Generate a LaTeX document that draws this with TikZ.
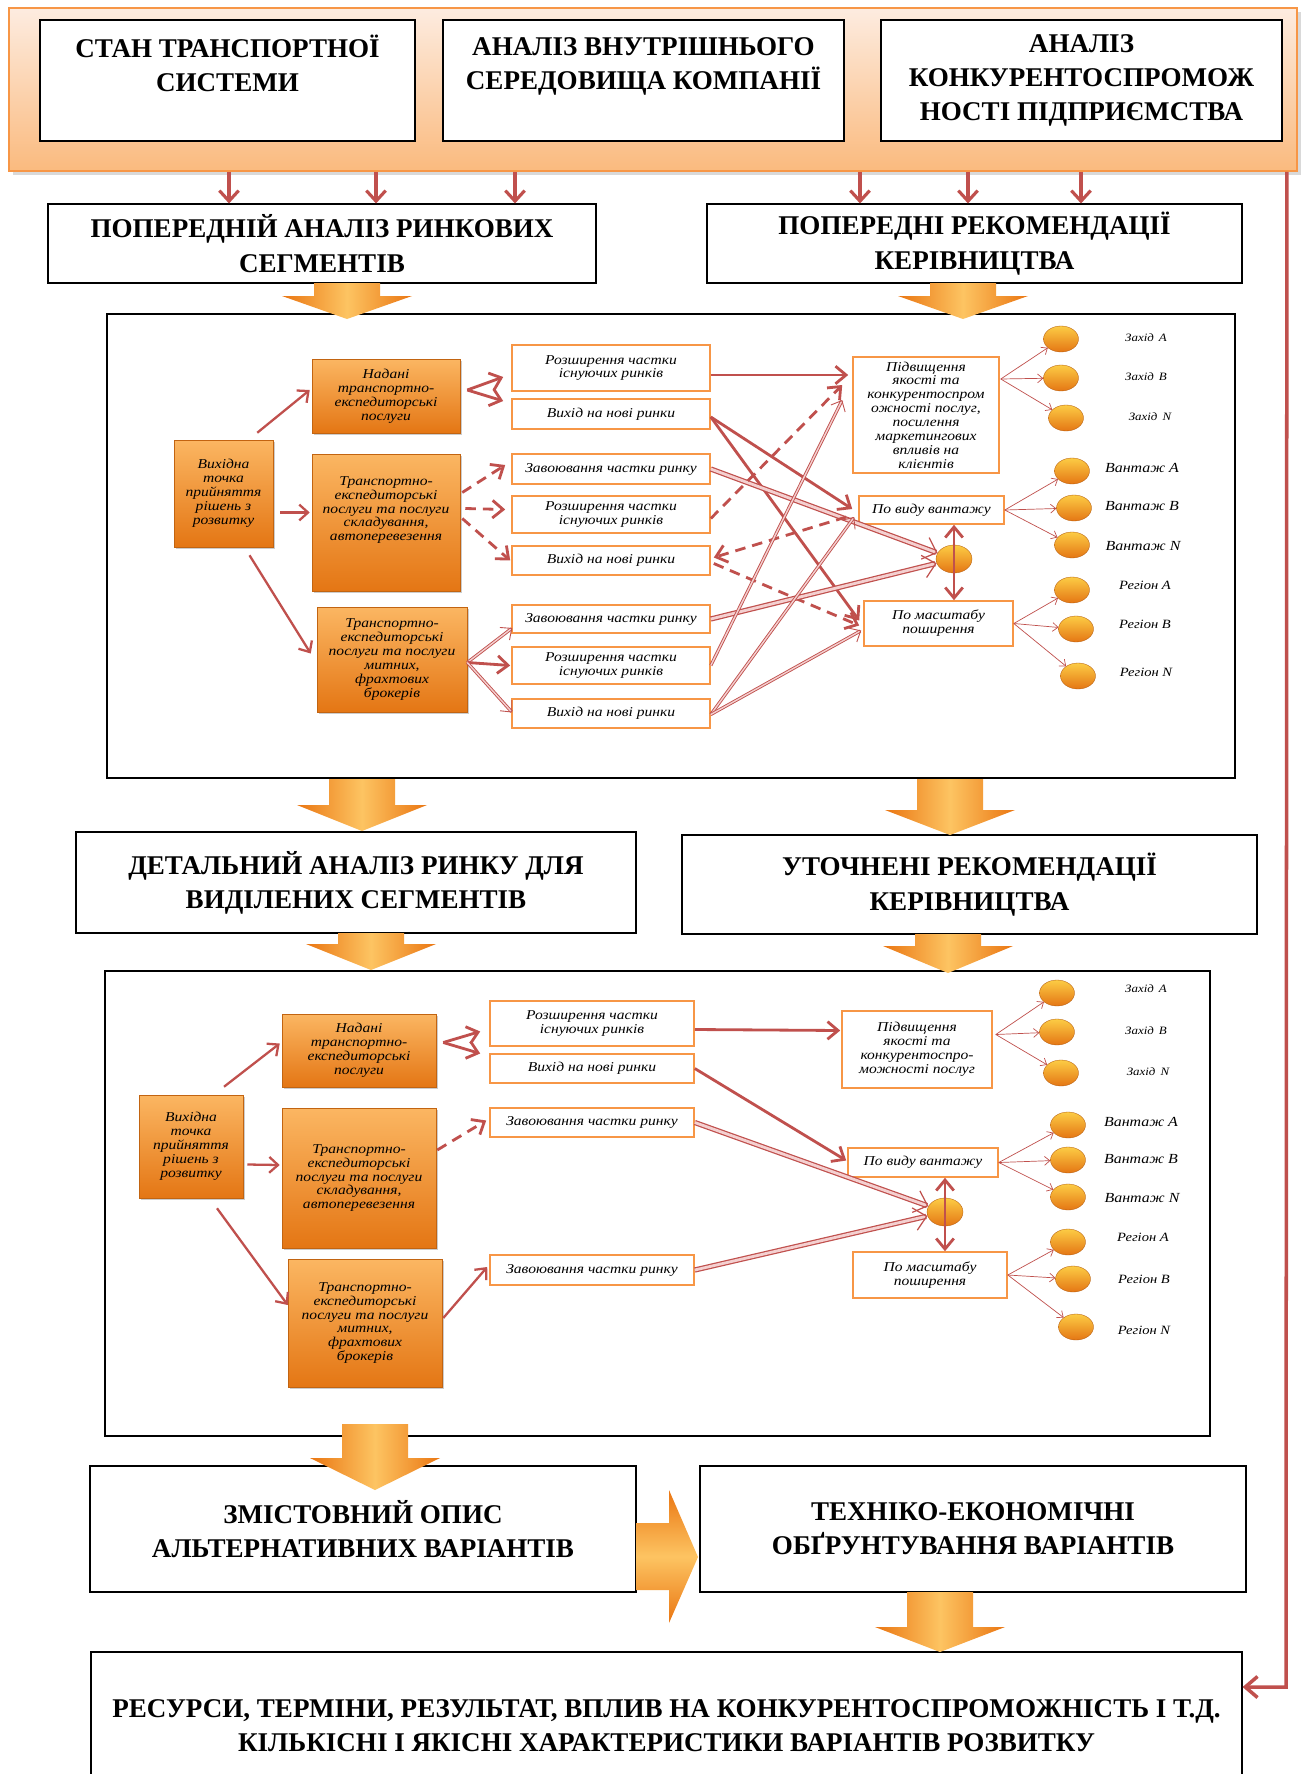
\documentclass[tikz,border=0pt]{standalone}
\usepackage{fontspec}
\setmainfont{Liberation Serif}
\newfontfamily\itf{Liberation Serif}[FakeStretch=1.15]
\usetikzlibrary{arrows.meta,shapes.geometric,shadows,calc}

\definecolor{arr}{RGB}{192,80,77}
\definecolor{obord}{RGB}{247,150,70}
\definecolor{otop}{RGB}{251,182,98}
\definecolor{obot}{RGB}{228,118,20}
\definecolor{bandtop}{RGB}{253,236,224}
\definecolor{bandbot}{RGB}{250,186,126}
\definecolor{fatdark}{RGB}{234,118,18}
\definecolor{fatlight}{RGB}{253,196,98}
\definecolor{dblfill}{RGB}{244,208,208}

\newcommand\hf{\fontsize{15.4}{19.5}\selectfont\bfseries}
\newcommand\smallit{\itf\itshape\fontsize{7.7}{7.9}\selectfont}
% rectangle node from its corners (x1,y1)-(x2,y2), in pixel units
\newcommand\bx[7]{\node[#1, minimum width={(#4-#2)*0.02cm}, minimum height={(#5-#3)*0.02cm}] (#6) at ({(#2+#4)/2},{(#3+#5)/2}) {#7};}
% fat down arrow: centre x, shaft top, head base, apex
\newcommand\fatdown[4]{\path[fat] (#1-33,#2) -- (#1+33,#2) -- (#1+33,#3) -- (#1+65,#3) -- (#1,#4) -- (#1-65,#3) -- (#1-33,#3) -- cycle;}

\tikzset{
  band/.style={top color=bandtop, bottom color=bandbot, draw=obord, line width=1pt,
    drop shadow={opacity=0.3, shadow xshift=2pt, shadow yshift=-2pt}},
  hbox/.style={draw=black, line width=0.6pt, fill=white, align=center, font=\hf, inner sep=1pt,
    drop shadow={opacity=0.45, shadow xshift=0.8pt, shadow yshift=-0.8pt}},
  bigbox/.style={draw=black, line width=0.8pt, fill=white},
  obox/.style={top color=otop, bottom color=obot, draw=obot!85!black, line width=0.3pt, align=center,
    font=\smallit, inner sep=1pt, drop shadow={opacity=0.4, shadow xshift=1pt, shadow yshift=-1pt}},
  wbox/.style={draw=obord, line width=0.9pt, fill=white, align=center, font=\smallit, inner sep=1pt},
  ball/.style={ellipse, top color=otop!70!yellow, bottom color=obot, draw=obot!80!black, line width=0.2pt,
    minimum width=0.7cm, minimum height=0.52cm, inner sep=0pt},
  lab/.style={font=\itf\itshape\fontsize{7.2}{7}\selectfont, inner sep=0pt},
  fat/.style={left color=fatdark, right color=fatdark, middle color=fatlight},
  fatr/.style={top color=fatdark, bottom color=fatdark, middle color=fatlight},
  topar/.style={draw=arr, line width=1.8pt, -{Straight Barb[length=6pt,width=11pt]}},
  fb/.style={draw=arr, line width=2pt, -{Straight Barb[length=7pt,width=12pt]}},
  ar/.style={draw=arr, line width=1.3pt, -{Straight Barb[length=5pt,width=9pt]}},
  thk/.style={draw=arr, line width=1.6pt, -{Straight Barb[length=6pt,width=10pt]}},
  dsh/.style={thk, dash pattern=on 6pt off 4pt},
  dblt/.style={draw=arr, line width=0.5pt, double=dblfill, double distance=0.8pt, -{Straight Barb[length=5pt,width=9pt]}},
  dblk/.style={draw=arr, line width=0.7pt, double=dblfill, double distance=1.6pt, -{Straight Barb[length=7pt,width=13pt]}},
  both/.style={draw=arr, line width=1.6pt, {Straight Barb[length=6pt,width=10pt]}-{Straight Barb[length=6pt,width=10pt]}},
  fan/.style={draw=arr, line width=0.4pt, -{Straight Barb[length=3pt,width=5pt]}},
}

\begin{document}
\begin{tikzpicture}[x=0.02cm, y=-0.02cm]
\useasboundingbox (0,0) rectangle (1303,1774);

% ---------- source analyses ----------
\bx{band}{9}{8}{1297}{171}{band}{}
\bx{hbox}{40}{20}{415}{141}{b1}{СТАН ТРАНСПОРТНОЇ\\СИСТЕМИ\\\mbox{}}
\bx{hbox}{443}{20}{844}{141}{b2}{АНАЛІЗ ВНУТРІШНЬОГО\\СЕРЕДОВИЩА КОМПАНІЇ\\\mbox{}}
\bx{hbox}{881}{20}{1282}{141}{b3}{АНАЛІЗ\\КОНКУРЕНТОСПРОМОЖ\\НОСТІ ПІДПРИЄМСТВА}

\bx{hbox}{48}{204}{596}{283}{pa}{ПОПЕРЕДНІЙ АНАЛІЗ РИНКОВИХ\\СЕГМЕНТІВ}
\bx{hbox}{707}{204}{1242}{283}{pr}{ПОПЕРЕДНІ РЕКОМЕНДАЦІЇ\\КЕРІВНИЦТВА}

% ---------- first segmentation scheme ----------
\bx{bigbox}{107}{314}{1235}{778}{box1}{}
\bx{obox}{174}{440}{273}{547}{v1}{Вихідна\\точка\\прийняття\\рішень з\\розвитку}
\bx{obox}{312}{359}{460}{433}{n1}{Надані\\транспортно-\\експедиторські\\послуги}
\bx{obox}{312}{454}{460}{591}{t1a}{Транспортно-\\експедиторські\\послуги та послуги\\складування,\\автоперевезення\\\mbox{}\\\mbox{}}
\bx{obox}{317}{607}{467}{712}{t1b}{Транспортно-\\експедиторські\\послуги та послуги\\митних,\\фрахтових\\брокерів}

\bx{wbox}{512}{345}{710}{391}{w11}{Розширення частки\\існуючих ринків}
\bx{wbox}{512}{399}{710}{429}{w12}{Вихід на нові ринки}
\bx{wbox}{512}{454}{710}{484}{w13}{Завоювання частки ринку}
\bx{wbox}{512}{496}{710}{533}{w14}{Розширення частки\\існуючих ринків}
\bx{wbox}{512}{546}{710}{575}{w15}{Вихід на нові ринки}
\bx{wbox}{512}{605}{710}{633}{w16}{Завоювання частки ринку}
\bx{wbox}{512}{647}{710}{684}{w17}{Розширення частки\\існуючих ринків}
\bx{wbox}{512}{699}{710}{728}{w18}{Вихід на нові ринки}

\bx{wbox}{853}{357}{999}{473}{p1}{Підвищення\\якості та\\конкурентоспром\\ожності послуг,\\посилення\\маркетингових\\впливів на\\клієнтів}
\bx{wbox}{859}{496}{1004}{524}{g1}{По виду вантажу}
\bx{wbox}{864}{601}{1013}{646}{m1}{По масштабу\\поширення}
\node[ball, minimum width=0.72cm, minimum height=0.56cm] (c1) at (954,559) {};

\node[ball] (z1a) at (1061,339) {};
\node[ball] (z1b) at (1061,378) {};
\node[ball] (z1n) at (1066,418) {};
\node[ball] (va1) at (1072,471) {};
\node[ball] (vb1) at (1074,508) {};
\node[ball] (vn1) at (1072,545) {};
\node[ball] (ra1) at (1072,590) {};
\node[ball] (rb1) at (1076,629) {};
\node[ball] (rn1) at (1078,676) {};
\node[lab, font=\itf\itshape\fontsize{6.4}{6}\selectfont] (lz1a) at (1146,338) {Захід\, A};
\node[lab, font=\itf\itshape\fontsize{6.4}{6}\selectfont] (lz1b) at (1146,377) {Захід\, B};
\node[lab, font=\itf\itshape\fontsize{6.4}{6}\selectfont] (lz1n) at (1150,417) {Захід\, N};
\node[lab, font=\itf\itshape\fontsize{7.9}{7}\selectfont] (lva1) at (1142,468) {Вантаж A};
\node[lab, font=\itf\itshape\fontsize{7.9}{7}\selectfont] (lvb1) at (1142,506) {Вантаж B};
\node[lab, font=\itf\itshape\fontsize{7.9}{7}\selectfont] (lvn1) at (1143,546) {Вантаж N};
\node[lab] (lra1) at (1145,585) {Регіон A};
\node[lab] (lrb1) at (1145,624) {Регіон B};
\node[lab] (lrn1) at (1146,672) {Регіон N};

% ---------- refined recommendations ----------
\bx{hbox}{76}{832}{636}{933}{dt}{ДЕТАЛЬНИЙ АНАЛІЗ РИНКУ ДЛЯ\\ВИДІЛЕНИХ СЕГМЕНТІВ}
\bx{hbox}{682}{835}{1257}{934}{ut}{УТОЧНЕНІ РЕКОМЕНДАЦІЇ\\КЕРІВНИЦТВА}

% ---------- second segmentation scheme ----------
\bx{bigbox}{105}{971}{1210}{1436}{box2}{}
\bx{obox}{139}{1095}{243}{1198}{v2}{Вихідна\\точка\\прийняття\\рішень з\\розвитку}
\bx{obox}{282}{1014}{436}{1087}{n2}{Надані\\транспортно-\\експедиторські\\послуги}
\bx{obox}{282}{1108}{436}{1248}{t2a}{Транспортно-\\експедиторські\\послуги та послуги\\складування,\\автоперевезення}
\bx{obox}{288}{1259}{442}{1387}{t2b}{Транспортно-\\експедиторські\\послуги та послуги\\митних,\\фрахтових\\брокерів}

\bx{wbox}{490}{1001}{694}{1046}{w21}{Розширення частки\\існуючих ринків}
\bx{wbox}{490}{1054}{694}{1083}{w22}{Вихід на нові ринки}
\bx{wbox}{490}{1108}{694}{1137}{w23}{Завоювання частки ринку}
\bx{wbox}{490}{1255}{694}{1285}{w24}{Завоювання частки ринку}

\bx{wbox}{842}{1011}{992}{1088}{p2}{Підвищення\\якості та\\конкурентоспро-\\можності послуг}
\bx{wbox}{848}{1148}{998}{1177}{g2}{По виду вантажу}
\bx{wbox}{853}{1252}{1007}{1298}{m2}{По масштабу\\поширення}
\node[ball, minimum width=0.72cm, minimum height=0.56cm] (c2) at (945,1212) {};

\node[ball] (z2a) at (1057,993) {};
\node[ball] (z2b) at (1057,1032) {};
\node[ball] (z2n) at (1061,1073) {};
\node[ball] (va2) at (1068,1125) {};
\node[ball] (vb2) at (1068,1160) {};
\node[ball] (vn2) at (1068,1197) {};
\node[ball] (ra2) at (1068,1242) {};
\node[ball] (rb2) at (1073,1279) {};
\node[ball] (rn2) at (1076,1327) {};
\node[lab, font=\itf\itshape\fontsize{6.4}{6}\selectfont] (lz2a) at (1146,989) {Захід\, A};
\node[lab, font=\itf\itshape\fontsize{6.4}{6}\selectfont] (lz2b) at (1146,1031) {Захід\, B};
\node[lab, font=\itf\itshape\fontsize{6.4}{6}\selectfont] (lz2n) at (1148,1072) {Захід\, N};
\node[lab, font=\itf\itshape\fontsize{7.9}{7}\selectfont] (lva2) at (1141,1122) {Вантаж A};
\node[lab, font=\itf\itshape\fontsize{7.9}{7}\selectfont] (lvb2) at (1141,1159) {Вантаж B};
\node[lab, font=\itf\itshape\fontsize{7.9}{7}\selectfont] (lvn2) at (1142,1198) {Вантаж N};
\node[lab] (lra2) at (1143,1237) {Регіон A};
\node[lab] (lrb2) at (1144,1279) {Регіон B};
\node[lab] (lrn2) at (1144,1330) {Регіон N};

% ---------- variants ----------
\bx{hbox}{90}{1466}{636}{1592}{zm}{ЗМІСТОВНИЙ ОПИС\\АЛЬТЕРНАТИВНИХ ВАРІАНТІВ}
\bx{hbox}{700}{1466}{1246}{1592}{te}{ТЕХНІКО-ЕКОНОМІЧНІ\\ОБҐРУНТУВАННЯ ВАРІАНТІВ}
\bx{hbox}{91}{1652}{1242}{1800}{res}{РЕСУРСИ, ТЕРМІНИ, РЕЗУЛЬТАТ, ВПЛИВ НА КОНКУРЕНТОСПРОМОЖНІСТЬ І Т.Д.\\КІЛЬКІСНІ І ЯКІСНІ ХАРАКТЕРИСТИКИ ВАРІАНТІВ РОЗВИТКУ}

% ---------- fat block arrows ----------
\fatdown{347}{283}{296}{319}
\fatdown{963}{283}{296}{319}
\fatdown{362}{779}{805}{831}
\fatdown{950}{779}{810}{835}
\fatdown{371}{933}{944}{970}
\fatdown{948}{934}{946}{973}
\fatdown{375}{1424}{1458}{1490}
\fatdown{940}{1592}{1627}{1652}
\path[fatr] (636,1523) -- (669,1523) -- (669,1490) -- (698,1557) -- (669,1623) -- (669,1590) -- (636,1590) -- cycle;

% ---------- connectors from the analyses ----------
\foreach \x in {229,376,515}{
  \coordinate (tx) at (\x,0);
  \draw[topar] (band.south -| tx) -- (pa.north -| tx);
}
\foreach \x in {860,968,1081}{
  \coordinate (tx) at (\x,0);
  \draw[topar] (band.south -| tx) -- (pr.north -| tx);
}
\coordinate (fbturn) at (1286,1687);
\draw[fb] ([shift={(-11,0)}]band.south east) -- (fbturn) -- (fbturn -| res.east);

% ---------- connectors, first scheme ----------
\draw[ar] ([shift={(-16,-7)}]v1.north east) -- ([shift={(-2,-6)}]n1.west);
\draw[ar] ([shift={(7,19)}]v1.east) -- ([shift={(-2,-10)}]t1a.west);
\draw[ar] ([shift={(26,8)}]v1.south) -- ([shift={(-6,-6)}]t1b.west);
\coordinate (n1o) at ([shift={(7,-6)}]n1.east);
\draw[thk] (n1o) -- ([shift={(-8,9)}]w11.west);
\draw[thk] (n1o) -- ([shift={(-8,-13)}]w12.west);
\draw[dsh] ([shift={(2,-30)}]t1a.east) -- ([shift={(-6,-4)}]w13.west);
\draw[dsh] ([shift={(5,-14)}]t1a.east) -- ([shift={(-6,-5)}]w14.west);
\draw[dsh] ([shift={(2,-4)}]t1a.east) -- ([shift={(-1,0)}]w15.west);
\coordinate (t1o) at ([shift={(0,3)}]t1b.east);
\draw[dblt] (t1o) -- ([shift={(1,9)}]w16.west);
\draw[thk] (t1o) -- ([shift={(-1,0)}]w17.west);
\draw[dblt] (t1o) -- ([shift={(1,-1)}]w18.west);

\draw[thk] ([shift={(0,7)}]w11.east) -- ([shift={(-4,-40)}]p1.west);
\draw[thk] ([shift={(0,3)}]w12.east) -- ([shift={(-6,-1)}]g1.west);
\draw[thk] ([shift={(0,3)}]w12.east) -- ([shift={(-4,-3)}]m1.west);
\draw[dblk] (w13.east) -- (c1);
\draw[dsh] ([shift={(0,4)}]w14.east) -- ([shift={(-10,-30)}]p1.west);
\draw[dsh] ([shift={(-12,7)}]g1.west) -- ([shift={(3,-3)}]w15.east);
\draw[dsh] ([shift={(3,3)}]w15.east) -- ([shift={(-4,2)}]m1.west);
\draw[dblk] (w16.east) -- (c1);
\draw[dblt] (w17.east) -- ([shift={(-10,-15)}]p1.west);
\draw[dblt] ([shift={(0,1)}]w18.east) -- ([shift={(-4,7)}]g1.west);
\draw[dblt] ([shift={(0,1)}]w18.east) -- ([shift={(-2,7)}]m1.west);
\draw[both] (g1.south -| c1.center) -- (m1.north -| c1.center);

\coordinate (p1o) at ([shift={(1,-36)}]p1.east);
\foreach \e in {z1a,z1b,z1n} \draw[fan] (p1o) -- (\e);
\foreach \e in {va1,vb1,vn1} \draw[fan] (g1.east) -- (\e);
\foreach \e in {ra1,rb1,rn1} \draw[fan] (m1.east) -- (\e);

% ---------- connectors, second scheme ----------
\draw[ar] ([shift={(33,-8)}]v2.north) -- ([shift={(-2,-7)}]n2.west);
\draw[ar] ([shift={(4,18)}]v2.east) -- ([shift={(-2,-13)}]t2a.west);
\draw[ar] ([shift={(26,10)}]v2.south) -- ([shift={(0,-18)}]t2b.west);
\coordinate (n2o) at ([shift={(7,-8)}]n2.east);
\draw[thk] (n2o) -- ([shift={(-9,8)}]w21.west);
\draw[thk] (n2o) -- ([shift={(-9,-15)}]w22.west);
\draw[dsh] ([shift={(1,-28)}]t2a.east) -- ([shift={(-3,-2)}]w23.west);
\draw[ar] ([shift={(1,-5)}]t2b.east) -- ([shift={(-2,-3)}]w24.west);

\draw[thk] ([shift={(0,6)}]w21.east) -- ([shift={(-1,-19)}]p2.west);
\draw[thk] ([shift={(0,0)}]w22.east) -- ([shift={(-1,-2)}]g2.west);
\draw[dblk] (w23.east) -- (c2);
\draw[dblk] (w24.east) -- (c2);
\draw[both] (g2.south -| c2.center) -- (m2.north -| c2.center);

\coordinate (p2o) at ([shift={(3,-15)}]p2.east);
\foreach \e in {z2a,z2b,z2n} \draw[fan] (p2o) -- (\e);
\foreach \e in {va2,vb2,vn2} \draw[fan] (g2.east) -- (\e);
\foreach \e in {ra2,rb2,rn2} \draw[fan] (m2.east) -- (\e);
\end{tikzpicture}
\end{document}
